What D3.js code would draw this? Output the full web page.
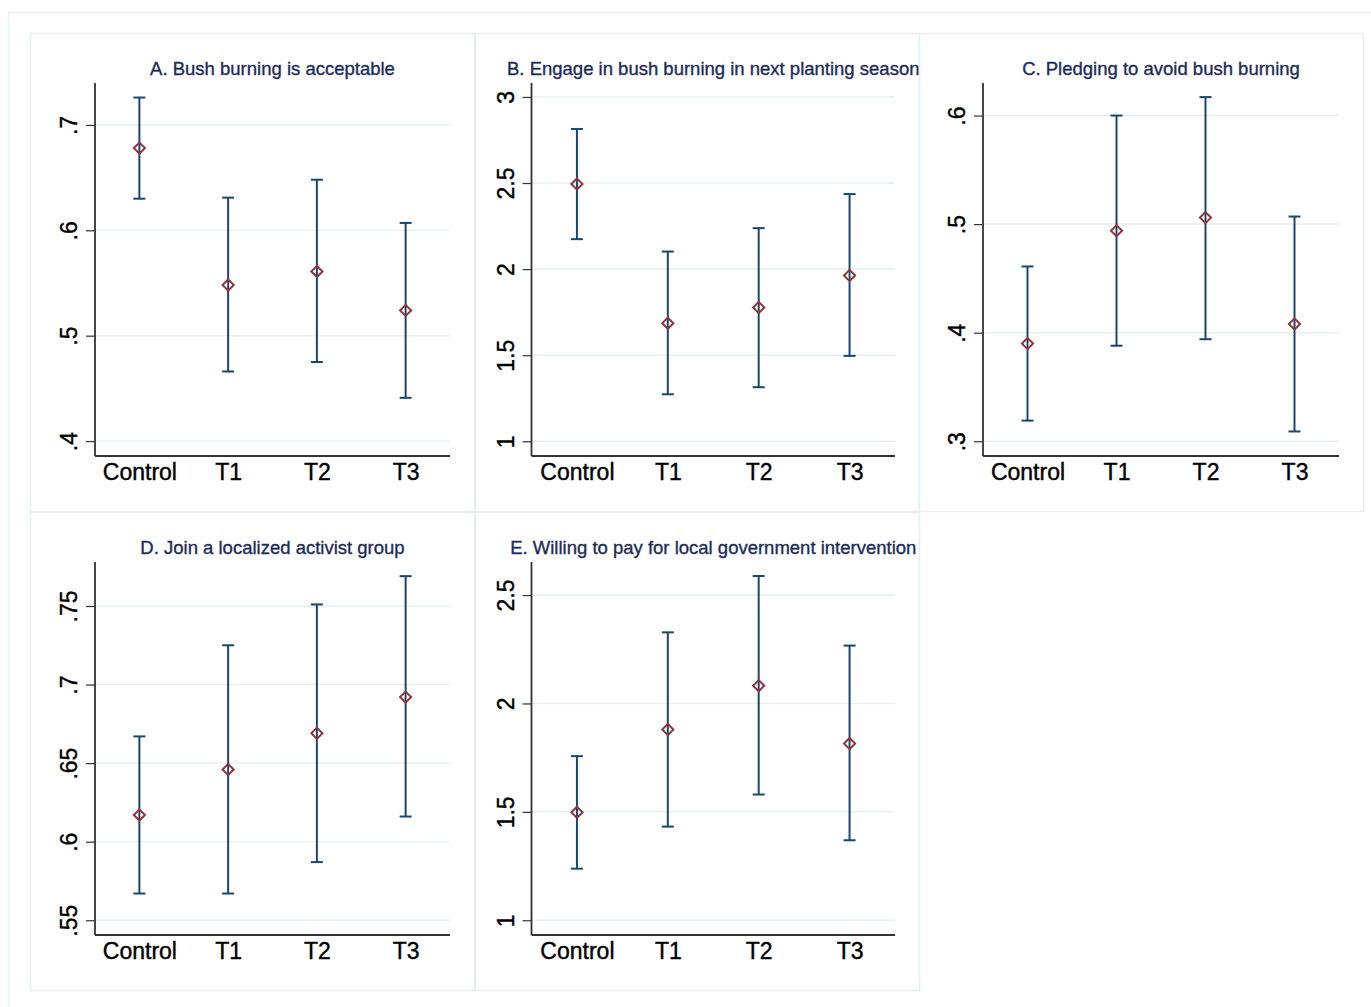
<!DOCTYPE html>
<html>
<head>
  <meta charset="utf-8">
  <title>Bush burning treatment effects</title>
  <script src="https://d3js.org/d3.v7.min.js"></script>
  <style>
    body { margin: 0; background: #ffffff; }
    svg { display: block; font-family: "Liberation Sans", Arial, Helvetica, sans-serif; }
  </style>
</head>
<body>
  <div id="chart"></div>
  <script>
    // Datos (media e intervalo de confianza por grupo)
    const categories = ["Control", "T1", "T2", "T3"];
    const titles = [
      "A. Bush burning is acceptable",
      "B. Engage in bush burning in next planting season",
      "C. Pledging to avoid bush burning",
      "D. Join a localized activist group",
      "E. Willing to pay for local government intervention"
    ];

    const meanA = [0.678, 0.548, 0.561, 0.524];
    const lowA  = [0.630, 0.466, 0.475, 0.441];
    const highA = [0.726, 0.631, 0.648, 0.607];

    const meanB = [2.494, 1.686, 1.777, 1.963];
    const lowB  = [2.174, 1.273, 1.314, 1.496];
    const highB = [2.814, 2.102, 2.238, 2.436];

    const meanC = [0.390, 0.494, 0.506, 0.408];
    const lowC  = [0.319, 0.388, 0.394, 0.309];
    const highC = [0.461, 0.600, 0.617, 0.507];

    const meanD = [0.617, 0.646, 0.669, 0.692];
    const lowD  = [0.567, 0.567, 0.587, 0.616];
    const highD = [0.667, 0.725, 0.751, 0.769];

    const meanE = [1.498, 1.880, 2.082, 1.815];
    const lowE  = [1.238, 1.432, 1.580, 1.369];
    const highE = [1.757, 2.328, 2.588, 2.267];

    // Valores de los ejes Y
    const ticksA = [0.4, 0.5, 0.6, 0.7];
    const ticksB = [1, 1.5, 2, 2.5, 3];
    const ticksC = [0.3, 0.4, 0.5, 0.6];
    const ticksD = [0.55, 0.6, 0.65, 0.7, 0.75];
    const ticksE = [1, 1.5, 2, 2.5];

    // Rango de cada eje Y
    const rangeA = [0.3858, 0.7398];
    const rangeB = [0.9145, 3.081];
    const rangeC = [0.2864, 0.630];
    const rangeD = [0.5406, 0.778];
    const rangeE = [0.932, 2.6525];

    const panels = [
      {mean: meanA, low: lowA, high: highA, ticks: ticksA, range: rangeA},
      {mean: meanB, low: lowB, high: highB, ticks: ticksB, range: rangeB},
      {mean: meanC, low: lowC, high: highC, ticks: ticksC, range: rangeC},
      {mean: meanD, low: lowD, high: highD, ticks: ticksD, range: rangeD},
      {mean: meanE, low: lowE, high: highE, ticks: ticksE, range: rangeE}
    ];

    // Disposicion de los paneles
    const W = 1371, H = 1007;
    const colX = [30, 475, 919];
    const rowY = [33, 512];
    const boxW = 444, boxH = 478;
    const plotLeft = [65, 56.5, 64];
    const plotRight = 420, plotTop = 50, plotBottom = 423;

    const navy = "#1a476f", maroon = "#90353b", grid = "#e6eff2";
    const fmt = d => String(d).replace(/^0\./, ".");

    const svg = d3.select("#chart").append("svg")
      .attr("width", W).attr("height", H);

    // Marco exterior
    svg.append("rect")
      .attr("x", 8.5).attr("y", 12.5)
      .attr("width", 1400).attr("height", 1100)
      .attr("fill", "none").attr("stroke", "#eaf1f3").attr("stroke-width", 1.5);

    const diamond = d3.symbol().type(d3.symbolSquare).size(62);

    panels.forEach((p, i) => {
      const col = i % 3, row = Math.floor(i / 3);
      const bx = colX[col], by = rowY[row];

      // Caja del panel
      svg.append("rect")
        .attr("x", bx + 0.5).attr("y", by + 0.5)
        .attr("width", boxW).attr("height", boxH)
        .attr("fill", "#ffffff").attr("stroke", "#e6eef1").attr("stroke-width", 1.5);

      const x0 = bx + plotLeft[col], x1 = bx + plotRight;
      const y0 = by + plotTop, y1 = by + plotBottom;

      const x = d3.scaleLinear().domain([0.5, 4.5]).range([x0, x1]);
      const y = d3.scaleLinear().domain(p.range).range([y1, y0]);

      const g = svg.append("g");

      // Lineas de cuadricula
      g.selectAll(".grid").data(p.ticks).enter().append("line")
        .attr("x1", x0).attr("x2", x1)
        .attr("y1", d => y(d)).attr("y2", d => y(d))
        .attr("stroke", grid).attr("stroke-width", 1.5);

      // Eje Y
      const yAxis = g.append("g")
        .attr("transform", `translate(${x0},0)`)
        .call(d3.axisLeft(y).tickValues(p.ticks).tickFormat(fmt).tickSize(9).tickSizeOuter(0));
      yAxis.select(".domain").remove();
      yAxis.selectAll(".tick line").attr("stroke", "#333").attr("stroke-width", 1.2);
      yAxis.selectAll(".tick text")
        .attr("x", null).attr("dy", null)
        .attr("transform", "translate(-18,0) rotate(-90)")
        .attr("text-anchor", "middle")
        .attr("font-size", 23).attr("fill", "#000")
        .attr("stroke", "#000").attr("stroke-width", 0.4);

      g.append("line")
        .attr("x1", x0).attr("x2", x0).attr("y1", y0).attr("y2", y1)
        .attr("stroke", "#333").attr("stroke-width", 1.8);

      // Eje X
      const xAxis = g.append("g")
        .attr("transform", `translate(0,${y1})`)
        .call(d3.axisBottom(x).tickValues([1, 2, 3, 4])
          .tickFormat((d, k) => categories[k]).tickSize(0).tickSizeOuter(0));
      xAxis.select(".domain").remove();
      xAxis.selectAll(".tick text")
        .attr("y", 24).attr("dy", null)
        .attr("font-size", 23).attr("fill", "#000")
        .attr("stroke", "#000").attr("stroke-width", 0.4);

      g.append("line")
        .attr("x1", x0).attr("x2", x1).attr("y1", y1).attr("y2", y1)
        .attr("stroke", "#333").attr("stroke-width", 1.8);

      // Titulo
      g.append("text")
        .attr("x", (x0 + x1) / 2).attr("y", by + 42)
        .attr("text-anchor", "middle")
        .attr("font-size", 18.5).attr("fill", "#1c2c5a")
        .attr("stroke", "#1c2c5a").attr("stroke-width", 0.35)
        .text(titles[i]);

      const rows = categories.map((c, k) => ({k: k + 1, m: p.mean[k], lo: p.low[k], hi: p.high[k]}));

      // Intervalos
      g.selectAll(".bar").data(rows).enter().append("line")
        .attr("x1", d => x(d.k)).attr("x2", d => x(d.k))
        .attr("y1", d => y(d.lo)).attr("y2", d => y(d.hi))
        .attr("stroke", navy).attr("stroke-width", 2);

      ["lo", "hi"].forEach(key => {
        g.selectAll(".cap" + key).data(rows).enter().append("line")
          .attr("x1", d => x(d.k) - 6).attr("x2", d => x(d.k) + 6)
          .attr("y1", d => y(d[key])).attr("y2", d => y(d[key]))
          .attr("stroke", navy).attr("stroke-width", 2);
      });

      // Medias (rombos huecos)
      g.selectAll(".pt").data(rows).enter().append("path")
        .attr("d", diamond)
        .attr("transform", d => `translate(${x(d.k)},${y(d.m)}) rotate(45)`)
        .attr("fill", "none").attr("stroke", maroon).attr("stroke-width", 2);
    });
  </script>
</body>
</html>
